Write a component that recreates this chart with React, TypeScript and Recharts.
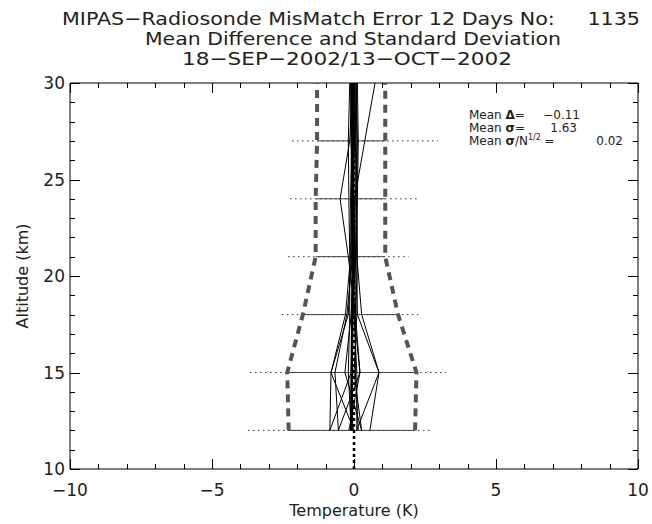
import React from 'react';
import { ScatterChart, Scatter, XAxis, YAxis } from 'recharts';

// altitude grid (km) where the profiles are sampled
const levels = [12, 15, 18, 21, 24, 27, 30];

// mean - sigma / mean + sigma envelope (K)
const sigmaLow = [-2.3, -2.35, -1.8, -1.35, -1.35, -1.3, -1.3];
const sigmaHigh = [2.15, 2.2, 1.55, 1.1, 1.1, 1.1, 1.1];

// min / max spread of the differences at each level (K)
const spreadLevels = [12, 15, 18, 21, 24, 27];
const spreadMin = [-3.73, -3.66, -2.54, -2.32, -2.25, -2.18];
const spreadMax = [2.75, 3.24, 2.36, 1.92, 2.25, 2.96];

// individual difference profiles (K) at the levels above
const profiles = [
  [-0.85, -0.81, -0.3, -0.12, -0.08, -0.1, -0.1],
  [-0.55, -0.67, -0.25, -0.05, -0.1, -0.05, -0.08],
  [0.27, -0.32, -0.1, 0.0, 0.05, 0.02, 0.0],
  [-0.55, 0.21, 0.0, -0.08, -0.05, -0.1, -0.12],
  [0.56, 0.88, 0.27, 0.1, 0.08, 0.05, 0.06],
  [0.09, 0.88, 0.12, 0.05, 0.02, 0.38, 0.74],
  [-0.18, 0.21, 0.05, -0.2, -0.49, -0.15, -0.05],
  [0.0, -0.81, -0.2, -0.1, -0.12, -0.08, -0.1],
  [-0.85, -0.1, -0.05, 0.05, 0.1, 0.08, 0.1],
  [0.27, 0.0, 0.1, 0.12, 0.1, 0.12, 0.08],
  [-0.1, -0.2, -0.15, -0.15, -0.18, -0.2, -0.15],
  [0.1, 0.1, 0.0, 0.02, -0.02, 0.0, 0.02],
  [-0.05, -0.05, -0.08, -0.03, 0.0, -0.03, -0.05],
  [0.15, 0.05, 0.05, 0.08, 0.12, 0.15, 0.12],
];
const meanProfile = [-0.1, -0.08, -0.06, -0.04, -0.05, -0.04, -0.04];

const X_MIN = -10;
const X_MAX = 10;
const Y_MIN = 10;
const Y_MAX = 30;
const xTicks = Array.from({ length: 21 }, (_, i) => i + X_MIN);
const yTicks = Array.from({ length: 21 }, (_, i) => i + Y_MIN);

// plot frame in page pixels; the chart margins below are derived from it
const W = 652;
const H = 524;
const FRAME = { left: 70, top: 83, right: 638, bottom: 469 };
const LEFT_AXIS_W = 30;
const BOTTOM_AXIS_H = 30;
const TOP_AXIS_H = 10;
const RIGHT_AXIS_W = 10;

const FONT = '"DejaVu Sans", sans-serif';
const INK = '#222';
const NB = '\u00a0';

const toPoints = (vals: number[], alts: number[]) => vals.map((t, i) => ({ t, alt: alts[i] }));

const NoDot = () => <g />;

const fmt = (v: number) => (v < 0 ? '\u2212' + Math.abs(v) : String(v));
const isMajor = (v: number) => v % 5 === 0;

const px = (v: number) => FRAME.left + ((v - X_MIN) / (X_MAX - X_MIN)) * (FRAME.right - FRAME.left);
const py = (v: number) => FRAME.bottom - ((v - Y_MIN) / (Y_MAX - Y_MIN)) * (FRAME.bottom - FRAME.top);

function BottomLabel({ x, y, payload }: any) {
  if (!isMajor(payload.value)) return <g />;
  return (
    <text x={x} y={Number(y) + 27} textAnchor="middle" fontSize={17} fontFamily={FONT} fill={INK}>
      {fmt(payload.value)}
    </text>
  );
}

function LeftLabel({ x, y, payload }: any) {
  if (!isMajor(payload.value)) return <g />;
  return (
    <text x={Number(x) - 5} y={Number(y) + 6} textAnchor="end" fontSize={17} fontFamily={FONT} fill={INK}>
      {payload.value}
    </text>
  );
}

// inward tick marks on all four sides of the frame
function FrameTicks() {
  const segs: string[] = [];
  xTicks.forEach((v) => {
    const x = Math.round(px(v)) + 0.5;
    const len = isMajor(v) ? 10 : 5;
    segs.push(`M${x},${FRAME.bottom}v${-len}`, `M${x},${FRAME.top}v${len}`);
  });
  yTicks.forEach((v) => {
    const y = Math.round(py(v)) + 0.5;
    const len = isMajor(v) ? 10 : 5;
    segs.push(`M${FRAME.left},${y}h${len}`, `M${FRAME.right},${y}h${-len}`);
  });
  return <path d={segs.join('')} stroke="#000" strokeWidth={1} fill="none" />;
}

const axisCommon = {
  type: 'number' as const,
  interval: 0 as const,
  tickSize: 0,
  tickMargin: 0,
  tickLine: false,
  axisLine: { stroke: '#000' },
  allowDataOverflow: true,
};

export default function App() {
  return (
    <div style={{ position: 'absolute', left: 0, top: 0, width: W, height: H, background: '#fff' }}>
      <ScatterChart
        width={W}
        height={H}
        margin={{
          top: FRAME.top - TOP_AXIS_H,
          right: W - FRAME.right - RIGHT_AXIS_W,
          bottom: H - FRAME.bottom - BOTTOM_AXIS_H,
          left: FRAME.left - LEFT_AXIS_W,
        }}
      >
        <XAxis
          {...axisCommon}
          dataKey="t"
          domain={[X_MIN, X_MAX]}
          ticks={xTicks}
          height={BOTTOM_AXIS_H}
          tick={<BottomLabel />}
        />
        <XAxis
          {...axisCommon}
          xAxisId="top"
          orientation="top"
          dataKey="t"
          domain={[X_MIN, X_MAX]}
          ticks={xTicks}
          height={TOP_AXIS_H}
          tick={false}
        />
        <YAxis
          {...axisCommon}
          dataKey="alt"
          domain={[Y_MIN, Y_MAX]}
          ticks={yTicks}
          width={LEFT_AXIS_W}
          tick={<LeftLabel />}
        />
        <YAxis
          {...axisCommon}
          yAxisId="right"
          orientation="right"
          dataKey="alt"
          domain={[Y_MIN, Y_MAX]}
          ticks={yTicks}
          width={RIGHT_AXIS_W}
          tick={false}
        />

        {/* keeps the mirrored axes bound to a series */}
        <Scatter
          xAxisId="top"
          yAxisId="right"
          data={[{ t: 0, alt: Y_MIN }, { t: 0, alt: Y_MAX }]}
          shape={NoDot}
          isAnimationActive={false}
        />

        {/* min/max spread, dotted */}
        {spreadLevels.map((alt, i) => (
          <Scatter
            key={'sp' + alt}
            data={[{ t: spreadMin[i], alt }, { t: spreadMax[i], alt }]}
            line={{ stroke: '#333', strokeWidth: 1, strokeDasharray: '1.5 3.5' }}
            shape={NoDot}
            isAnimationActive={false}
          />
        ))}

        {/* +/- sigma bars at each level */}
        {spreadLevels.map((alt, i) => (
          <Scatter
            key={'sb' + alt}
            data={[{ t: sigmaLow[i], alt }, { t: sigmaHigh[i], alt }]}
            line={{ stroke: '#444', strokeWidth: 1 }}
            shape={NoDot}
            isAnimationActive={false}
          />
        ))}

        {/* sigma envelope */}
        <Scatter
          data={toPoints(sigmaLow, levels)}
          line={{ stroke: '#555', strokeWidth: 4, strokeDasharray: '8 6' }}
          shape={NoDot}
          isAnimationActive={false}
        />
        <Scatter
          data={toPoints(sigmaHigh, levels)}
          line={{ stroke: '#555', strokeWidth: 4, strokeDasharray: '8 6' }}
          shape={NoDot}
          isAnimationActive={false}
        />

        {/* individual profiles */}
        {profiles.map((p, i) => (
          <Scatter
            key={'pr' + i}
            data={toPoints(p, levels)}
            line={{ stroke: '#000', strokeWidth: 1 }}
            shape={NoDot}
            isAnimationActive={false}
          />
        ))}
        <Scatter
          data={toPoints(meanProfile, levels)}
          line={{ stroke: '#000', strokeWidth: 2.5 }}
          shape={NoDot}
          isAnimationActive={false}
        />

        {/* zero reference */}
        <Scatter
          data={[{ t: 0, alt: Y_MIN }, { t: 0, alt: Y_MAX }]}
          line={{ stroke: '#000', strokeWidth: 2.5, strokeDasharray: '3 3' }}
          shape={NoDot}
          isAnimationActive={false}
        />
      </ScatterChart>

      <svg
        width={W}
        height={H}
        style={{ position: 'absolute', left: 0, top: 0, pointerEvents: 'none' }}
        fontFamily={FONT}
        fill={INK}
      >
        <FrameTicks />

        <text x={351} y={25} fontSize={18} textAnchor="middle" textLength={578} lengthAdjust="spacingAndGlyphs">
          {`MIPAS\u2212Radiosonde MisMatch Error 12 Days No:${NB}${NB}${NB}${NB}${NB}1135`}
        </text>
        <text x={353} y={45} fontSize={18} textAnchor="middle" textLength={416} lengthAdjust="spacingAndGlyphs">
          Mean Difference and Standard Deviation
        </text>
        <text x={347} y={65} fontSize={18} textAnchor="middle" textLength={330} lengthAdjust="spacingAndGlyphs">
          {'18\u2212SEP\u22122002/13\u2212OCT\u22122002'}
        </text>

        <g fontSize={12}>
          <text x={469} y={119}>
            Mean <tspan fontWeight="bold">{'\u0394'}</tspan>=
          </text>
          <text x={580} y={119} textAnchor="end">{'\u22120.11'}</text>
          <text x={469} y={132}>
            Mean <tspan fontWeight="bold">{'\u03c3'}</tspan>=
          </text>
          <text x={577} y={132} textAnchor="end">1.63</text>
          <text x={469} y={145}>
            Mean <tspan fontWeight="bold">{'\u03c3'}</tspan>/N<tspan fontSize={8} dy={-5}>1/2</tspan><tspan dy={5}>{NB}=</tspan>
          </text>
          <text x={623} y={145} textAnchor="end">0.02</text>
        </g>

        <text x={354} y={516} fontSize={16} textAnchor="middle">
          Temperature (K)
        </text>
        <text x={0} y={0} fontSize={16} textAnchor="middle" transform="translate(28 276) rotate(-90)">
          Altitude (km)
        </text>
      </svg>
    </div>
  );
}
